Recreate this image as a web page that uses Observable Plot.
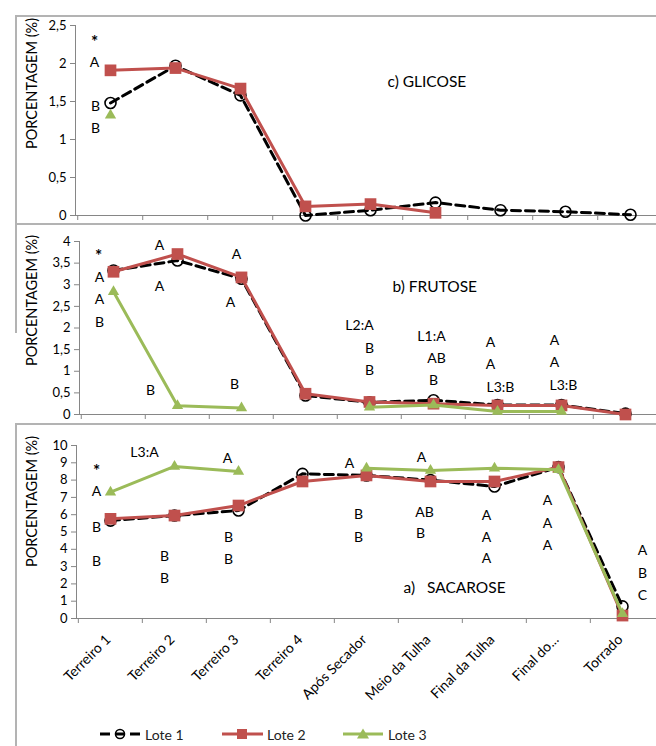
<!DOCTYPE html>
<html><head><meta charset="utf-8">
<script src="https://cdn.jsdelivr.net/npm/d3@7"></script>
<script src="https://cdn.jsdelivr.net/npm/@observablehq/plot@0.6"></script>
<style>
body{margin:0;background:#fff;font-family:Lato,"Open Sans",sans-serif;}
#wrap{position:relative;width:656px;height:746px;overflow:hidden;background:#fff;}
.panel{position:absolute;left:0;width:656px;}
.ln{position:absolute;background:#b3b3b3;}
.leg{position:absolute;top:724px;height:20px;display:flex;align-items:center;font-size:14px;color:#222;font-family:Lato,"Open Sans",sans-serif;}
.leg svg{margin-right:4px;}
</style></head><body><div id="wrap"></div><script>
// ---------- data ----------
const categories = ["Terreiro 1","Terreiro 2","Terreiro 3","Terreiro 4","Após Secador","Meio da Tulha","Final da Tulha","Final do...","Torrado"];
const seriesNames = ["Lote 1","Lote 2","Lote 3"];

const glicoseTicks = [0,0.5,1,1.5,2,2.5];
const glicoseLote1 = [1.48,1.97,1.58,0.00,0.07,0.17,0.07,0.05,0.01];
const glicoseLote2 = [1.91,1.94,1.67,0.12,0.15,0.035,null,null,null];
const glicoseLote3 = [1.32,null,null,null,null,null,null,null,null];

const frutoseTicks = [0,0.5,1,1.5,2,2.5,3,3.5,4];
const frutoseLote1 = [3.33,3.56,3.14,0.44,0.28,0.33,0.22,0.22,0.02];
const frutoseLote2 = [3.30,3.71,3.17,0.48,0.29,0.25,0.21,0.21,0.00];
const frutoseLote3 = [2.84,0.20,0.15,null,0.17,0.22,0.07,0.07,null];

const sacaroseTicks = [0,1,2,3,4,5,6,7,8,9,10];
const sacaroseLote1 = [5.66,5.95,6.24,8.36,8.27,8.00,7.63,8.75,0.70];
const sacaroseLote2 = [5.76,5.95,6.53,7.92,8.27,7.92,7.92,8.75,0.17];
const sacaroseLote3 = [7.30,8.79,8.50,null,8.69,8.55,8.69,8.60,0.27];

// significance letters: [category, value, text, shift]
const glicoseLetters = [
  ["Terreiro 1",2.27,"*",-16],["Terreiro 1",2.01,"A",-16],
  ["Terreiro 1",1.43,"B",-15],["Terreiro 1",1.14,"B",-15]
];
const frutoseLetters = [
  ["Terreiro 1",3.66,"*",-15],["Terreiro 1",3.17,"A",-14],["Terreiro 1",2.66,"A",-14],["Terreiro 1",2.13,"B",-14],
  ["Terreiro 2",3.91,"A",-18],["Terreiro 2",2.96,"A",-18],["Terreiro 2",0.55,"B",-27],
  ["Terreiro 3",3.70,"A",-5],["Terreiro 3",2.59,"A",-11],["Terreiro 3",0.69,"B",-7],
  ["Após Secador",2.06,"L2:A",-10],["Após Secador",1.53,"B",0],["Após Secador",1.02,"B",0],
  ["Meio da Tulha",1.80,"L1:A",-2],["Meio da Tulha",1.29,"AB",3],["Meio da Tulha",0.79,"B",0],
  ["Final da Tulha",1.66,"A",-7],["Final da Tulha",1.16,"A",-7],["Final da Tulha",0.62,"L3:B",3],
  ["Final do...",1.71,"A",-7],["Final do...",1.20,"A",-7],["Final do...",0.67,"L3:B",2]
];
const sacaroseLetters = [
  ["Terreiro 2",9.60,"L3:A",-30],
  ["Terreiro 1",8.50,"*",-14],["Terreiro 1",7.34,"A",-14],["Terreiro 1",5.26,"B",-14],["Terreiro 1",3.29,"B",-14],
  ["Terreiro 2",3.58,"B",-10],["Terreiro 2",2.31,"B",-10],
  ["Terreiro 3",9.25,"A",-11],["Terreiro 3",4.68,"B",-10],["Terreiro 3",3.41,"B",-10],
  ["Após Secador",8.96,"A",-17],["Após Secador",6.01,"B",-8],["Após Secador",4.68,"B",-8],
  ["Meio da Tulha",9.31,"A",-9],["Meio da Tulha",6.13,"AB",-6],["Meio da Tulha",4.91,"B",-10],
  ["Final da Tulha",5.95,"A",-8],["Final da Tulha",4.68,"A",-8],["Final da Tulha",3.47,"A",-8],
  ["Final do...",6.82,"A",-11],["Final do...",5.49,"A",-11],["Final do...",4.22,"A",-11],
  ["Torrado",3.93,"A",20],["Torrado",2.60,"B",20],["Torrado",1.33,"C",20]
];
const glicoseTitle = ["Meio da Tulha",1.76,"c) GLICOSE",-48];
const frutoseTitle = ["Meio da Tulha",2.94,"b) FRUTOSE",-41];
const sacaroseTitle = ["Meio da Tulha",1.79,"a)\u00a0\u00a0 SACAROSE",-27];
const yLabel = "PORCENTAGEM (%)";

// ---------- styles ----------
const AXIS = "#868686", TXT = "#000";
const C1 = "#000000", C2 = "#C0504D", C3 = "#9BBB59";
const fmt = d => String(d).replace(".", ",");
const rows = vals => categories.map((cat, i) => ({cat, v: vals[i]}));

function panel(cfg) {
  const step = (cfg.xRange[1] - cfg.xRange[0]) / categories.length;
  const marks = [
    Plot.frame({anchor: "left", stroke: AXIS}),
    Plot.ruleY([0], {stroke: AXIS}),
    Plot.axisY({ticks: cfg.yTicks, tickSize: 5, tickPadding: 4, tickFormat: fmt, stroke: AXIS, fill: TXT, fontSize: 13, label: null}),
    Plot.axisX({tickSize: 5, tickFormat: () => "", dx: -step / 2, stroke: AXIS, label: null}),
    Plot.text([yLabel], {frameAnchor: "top-left", text: d => d, rotate: -90, fontSize: 14.5, fill: TXT,
      textAnchor: "middle", lineAnchor: "middle",
      dx: 32 - cfg.marginLeft, dy: cfg.labelY - cfg.marginTop}),
    Plot.line(rows(cfg.s[0]), {x: "cat", y: "v", stroke: C1, strokeWidth: 3, strokeDasharray: "9,5"}),
    Plot.dot(rows(cfg.s[0]), {x: "cat", y: "v", symbol: "circle", r: 5.5, stroke: C1, strokeWidth: 1.6, fill: "none"}),
    Plot.line(rows(cfg.s[1]), {x: "cat", y: "v", stroke: C2, strokeWidth: 3}),
    Plot.dot(rows(cfg.s[1]), {x: "cat", y: "v", symbol: "square", r: 6.6, fill: C2}),
    Plot.line(rows(cfg.s[2]), {x: "cat", y: "v", stroke: C3, strokeWidth: 3}),
    Plot.dot(rows(cfg.s[2]), {x: "cat", y: "v", symbol: "triangle", r: 4.2, fill: C3}),
    ...cfg.letters.map(a => Plot.text([a], {x: d => d[0], y: d => d[1], text: d => d[2], dx: a[3],
      fontSize: a[2] === "*" ? 17 : 14, fontWeight: a[2] === "*" ? "bold" : "normal", fill: TXT})),
    Plot.text([cfg.title], {x: d => d[0], y: d => d[1], text: d => d[2], dx: cfg.title[3], textAnchor: "start", fontSize: 15.5, fill: TXT})
  ];
  if (cfg.showX) marks.push(Plot.text(categories, {x: d => d, frameAnchor: "bottom", text: d => d, dy: 22, dx: 1,
    rotate: -45, textAnchor: "end", lineAnchor: "bottom", fontSize: 14, fill: TXT}));
  const svg = Plot.plot({
    width: 656, height: cfg.height,
    marginLeft: cfg.marginLeft, marginRight: 0, marginTop: cfg.marginTop, marginBottom: cfg.marginBottom,
    x: {type: "point", domain: categories, range: cfg.xRange, padding: 0.5},
    y: {domain: cfg.yDomain},
    style: {fontFamily: 'Lato, "Open Sans", sans-serif', background: "transparent", color: TXT, overflow: "visible"},
    marks
  });
  const div = document.createElement("div");
  div.className = "panel";
  div.style.top = cfg.top + "px";
  div.style.height = cfg.height + "px";
  div.appendChild(svg);
  return div;
}

const wrap = document.getElementById("wrap");
wrap.appendChild(panel({top: 0, height: 224, marginLeft: 75, marginTop: 25, marginBottom: 9, xRange: [75, 665],
  yDomain: [0, 2.5], yTicks: glicoseTicks, s: [glicoseLote1, glicoseLote2, glicoseLote3],
  letters: glicoseLetters, title: glicoseTitle, labelY: 83}));
wrap.appendChild(panel({top: 224, height: 200, marginLeft: 79, marginTop: 17, marginBottom: 10, xRange: [79, 659],
  yDomain: [0, 4], yTicks: frutoseTicks, s: [frutoseLote1, frutoseLote2, frutoseLote3],
  letters: frutoseLetters, title: frutoseTitle, labelY: 76}));
wrap.appendChild(panel({top: 424, height: 292, marginLeft: 76, marginTop: 21, marginBottom: 98, xRange: [76, 655],
  yDomain: [0, 10], yTicks: sacaroseTicks, s: [sacaroseLote1, sacaroseLote2, sacaroseLote3],
  letters: sacaroseLetters, title: sacaroseTitle, labelY: 77, showX: true}));

// chart-area borders
[[15,15,641,2],[15,15,2,209],[15,223,641,2],[15,224,2,109],[15,423,641,2],[15,424,2,322]].forEach(([l,t,w,h]) => {
  const d = document.createElement("div"); d.className = "ln";
  Object.assign(d.style, {left: l+"px", top: t+"px", width: w+"px", height: h+"px"});
  wrap.appendChild(d);
});

// legend
const legendLeft = [100, 222, 343];
const swatch = [
  `<line x1="0" y1="7" x2="40" y2="7" stroke="${C1}" stroke-width="3" stroke-dasharray="10,5"/><circle cx="20" cy="7" r="4.5" fill="none" stroke="${C1}" stroke-width="1.6"/>`,
  `<line x1="0" y1="7" x2="41" y2="7" stroke="${C2}" stroke-width="3"/><rect x="15" y="2" width="10" height="10" fill="${C2}"/>`,
  `<line x1="0" y1="7" x2="40" y2="7" stroke="${C3}" stroke-width="3"/><path d="M20,1.5L26,11.5L14,11.5Z" fill="${C3}"/>`
];
seriesNames.forEach((name, i) => {
  const d = document.createElement("div"); d.className = "leg";
  d.style.left = legendLeft[i] + "px";
  d.innerHTML = `<svg width="41" height="14">${swatch[i]}</svg><span>${name}</span>`;
  wrap.appendChild(d);
});
</script></body></html>
